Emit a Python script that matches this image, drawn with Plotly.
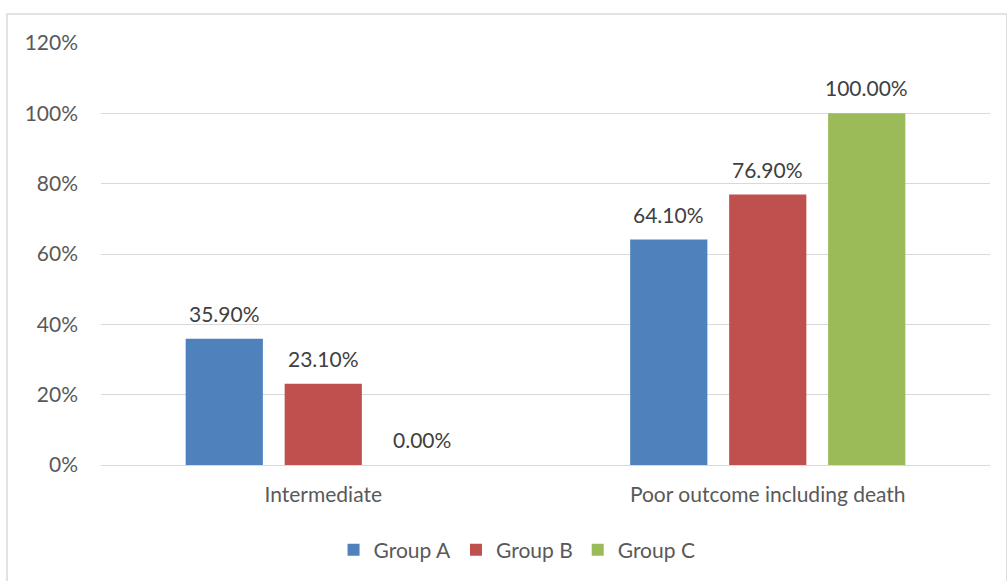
import plotly.graph_objects as go

categories = ["Intermediate", "Poor outcome including death"]
group_a = [35.9, 64.1]
group_b = [23.1, 76.9]
group_c = [0.0, 100.0]
series_names = ["Group A", "Group B", "Group C"]
colors = ["#4F81BD", "#C0504D", "#9BBB59"]
tick_vals = [0, 20, 40, 60, 80, 100, 120]
tick_text = ["0%", "20%", "40%", "60%", "80%", "100%", "120%"]

FONT = "Lato, sans-serif"
TXT = "#404040"
SZ = 21
BARGAP = 0.332

fig = go.Figure()
all_series = [group_a, group_b, group_c]
for name, vals, col in zip(series_names, all_series, colors):
    fig.add_trace(go.Bar(
        x=categories, y=vals, name=name, marker_color=col,
        marker_line_width=0,
    ))

# data labels placed above each bar (offset within group using bar slot width)
slot = (1 - BARGAP) / len(all_series)
annotations = []
for si, vals in enumerate(all_series):
    off = (si - (len(all_series) - 1) / 2) * slot
    for ci, v in enumerate(vals):
        annotations.append(dict(
            x=ci + off, y=v, xref="x", yref="y", text=f"{v:.2f}%",
            showarrow=False, yanchor="bottom", yshift=11,
            font=dict(family=FONT, size=SZ, color=TXT),
        ))

fig.update_layout(
    width=1007, height=581,
    margin=dict(l=101, r=17, t=43, b=115),
    paper_bgcolor="white", plot_bgcolor="white",
    barmode="group", bargap=BARGAP, bargroupgap=0.22,
    font=dict(family=FONT, size=SZ, color="#595959"),
    showlegend=True,
    legend=dict(orientation="h", x=0.468, xanchor="center", y=-0.199, yanchor="middle",
                font=dict(family=FONT, size=SZ, color="#595959"),
                itemwidth=30, traceorder="normal"),
    xaxis=dict(showgrid=False, showline=False, ticks="", ticklabelstandoff=15,
               tickfont=dict(size=SZ, color="#595959")),
    yaxis=dict(range=[0, 120], tickvals=tick_vals, ticktext=tick_text,
               showgrid=True, gridcolor="#D9D9D9", gridwidth=1,
               zeroline=True, zerolinecolor="#D9D9D9", zerolinewidth=1,
               showline=False, ticks="", ticklabelstandoff=22,
               tickfont=dict(size=SZ, color="#595959")),
    annotations=annotations,
    shapes=[dict(type="rect", xref="paper", yref="paper",
                 x0=-0.1057, x1=1.019, y0=-0.28, y1=1.0686,
                 line=dict(color="#D9D9D9", width=1.5), layer="below")],
)

fig.write_html("out.html")
